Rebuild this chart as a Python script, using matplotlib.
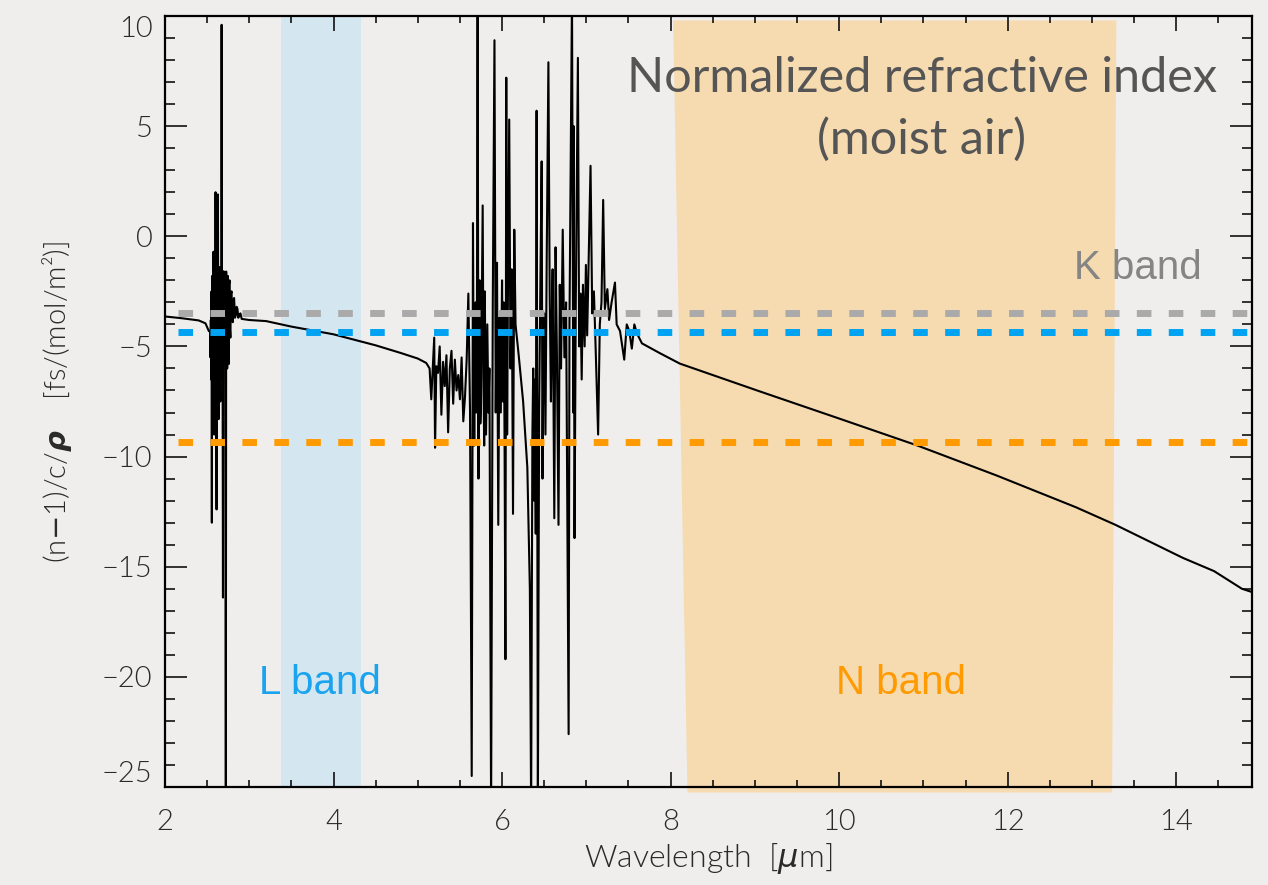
import numpy as np
import matplotlib
matplotlib.use("Agg")
import matplotlib.pyplot as plt
from matplotlib.patches import Polygon

# refractive index curve of moist air, piece by piece
wl_a = [2.00, 2.20, 2.40, 2.48, 2.52]
n_a = [-3.64, -3.72, -3.82, -3.95, -4.30]

# water band near 2.7 um
wl_b = [2.536, 2.540, 2.544, 2.548, 2.552, 2.556, 2.560, 2.564, 2.568, 2.572, 2.576, 2.580,
        2.584, 2.588, 2.592, 2.596, 2.600, 2.604, 2.608, 2.612, 2.616, 2.620, 2.624, 2.628,
        2.632, 2.636, 2.640, 2.644, 2.648, 2.652, 2.656, 2.660, 2.664, 2.668, 2.672, 2.676,
        2.680, 2.684, 2.688, 2.692, 2.696, 2.700, 2.704, 2.708, 2.712, 2.716, 2.722, 2.726,
        2.730, 2.734, 2.738, 2.742, 2.746, 2.750, 2.756, 2.761, 2.766, 2.771, 2.776, 2.783,
        2.790, 2.797, 2.805, 2.812, 2.820, 2.830, 2.840, 2.850, 2.860, 2.870, 2.880, 2.895, 2.910]
n_b = [-4.34, -5.5, -3.8, -6.5, -2.5, -13.0, -1.8, -6.0, -3.0, -7.0, -0.7, -6.5,
       -9.0, -2.0, -1.5, -6.5, 2.0, -5.0, -7.0, -12.4, -3.0, -2.0, -6.5, 1.9,
       -5.0, -8.3, -3.0, -6.2, -1.4, -5.5, -7.5, -2.0, -3.5, -6.5, 9.6, -6.0,
       -2.0, -6.8, -16.4, -1.6, -5.0, -1.6, -5.5, -3.0, -2.0, -6.0, -26.5, -1.6,
       -5.0, -2.0, -6.0, -2.5, -1.8, -4.5, -5.8, -2.2, -2.0, -4.2, -4.6, -2.6,
       -2.5, -3.8, -3.9, -2.9, -2.8, -3.7, -3.6, -3.2, -3.3, -3.7, -3.6, -3.5, -3.75]

wl_c = [3.00, 3.20, 3.50, 4.00, 4.50, 4.80, 5.00, 5.10]
n_c = [-3.80, -3.85, -4.10, -4.45, -4.95, -5.30, -5.55, -5.75]

# onset of the 6 um band
wl_d = [5.14, 5.16, 5.18, 5.195, 5.205, 5.22, 5.24, 5.26, 5.28, 5.30, 5.32, 5.34, 5.36, 5.38,
        5.40, 5.42, 5.44, 5.46, 5.48, 5.50, 5.52, 5.54, 5.56, 5.58, 5.60]
n_d = [-6.0, -7.4, -5.8, -4.6, -9.6, -5.9, -6.2, -5.0, -8.1, -5.7, -6.8, -5.4, -8.9, -6.0,
       -5.2, -7.6, -5.6, -7.0, -6.3, -7.4, -5.5, -8.4, -7.3, -5.6, -2.6]

# 6 um water band core
wl_e = [5.62, 5.64, 5.655, 5.662, 5.67, 5.685, 5.692, 5.70, 5.71, 5.72, 5.728, 5.735, 5.742,
        5.75, 5.77, 5.78, 5.788, 5.795, 5.81, 5.825, 5.838, 5.85, 5.87, 5.89, 5.91, 5.925,
        5.94, 5.955, 5.97, 5.985, 6.00, 6.01, 6.02, 6.03, 6.04, 6.05, 6.06, 6.07, 6.085,
        6.10, 6.115, 6.13, 6.145, 6.16, 6.20, 6.25, 6.30, 6.33, 6.345, 6.36, 6.37, 6.38,
        6.39, 6.40, 6.41, 6.425, 6.44, 6.455, 6.47, 6.48, 6.49, 6.50, 6.515, 6.53, 6.55,
        6.565, 6.58, 6.59, 6.60, 6.62, 6.635, 6.65, 6.67, 6.685, 6.70, 6.72, 6.74, 6.76,
        6.79, 6.80, 6.83, 6.845, 6.85, 6.86, 6.875, 6.90, 6.915, 6.93, 6.945, 6.96, 6.98,
        6.995, 7.01, 7.05, 7.07, 7.09, 7.11, 7.14, 7.16, 7.18, 7.20, 7.22, 7.25, 7.27,
        7.30, 7.34, 7.36, 7.40, 7.45, 7.48, 7.51, 7.54, 7.57, 7.60, 7.66, 7.75, 7.87]
n_e = [-8.0, -24.5, 0.6, -6.0, -9.5, -3.0, -8.0, -7.0, 11.0, -11.0, -4.0, -2.0, -8.5,
       -7.5, 1.4, -6.5, -9.5, -2.5, -9.0, -4.0, -8.0, -6.0, -26.0, -3.0, 8.9, -8.0,
       -1.2, -13.1, -3.5, -8.0, -2.0, -7.5, -3.0, -9.5, -19.2, 7.2, -9.0, -2.5, 5.3,
       -6.0, -1.5, -12.6, 0.3, -4.0, -5.5, -7.5, -10.5, -16.0, -26.0, -9.0, -6.0, -12.0,
       -6.5, -13.5, 5.7, -26.0, -8.0, -2.0, 3.4, -11.0, -5.0, -3.5, -9.0, -1.0, 7.9,
       -2.5, -7.5, -4.0, -1.5, -12.8, -0.5, -5.0, -13.1, -2.2, -6.0, 0.3, -5.5, -3.0,
       -22.6, -4.0, 11.0, -8.0, 5.0, -13.7, -3.0, 8.1, -5.0, -2.6, -6.5, -2.2, -5.0,
       -1.3, -4.5, 3.2, -3.5, -2.5, -5.0, -9.0, -4.0, -3.0, 1.65, -3.3, -2.4, -3.8,
       -3.0, -2.1, -4.0, -4.3, -5.6, -4.0, -4.3, -5.1, -4.0, -4.4, -4.86, -5.05, -5.30]

wl_f = [8.11, 9.05, 9.99, 10.93, 11.87, 12.81, 13.28, 14.08, 14.45, 14.78, 14.90]
n_f = [-5.78, -7.03, -8.26, -9.50, -10.86, -12.30, -13.10, -14.60, -15.20, -16.00, -16.15]

wl = wl_a + wl_b + wl_c + wl_d + wl_e + wl_f
n_norm = n_a + n_b + n_c + n_d + n_e + n_f

# reference levels (dashed) for the three bands
band_names = ["K band", "L band", "N band"]
band_levels = [-3.5, -4.36, -9.32]
band_colors = ["#aaaaaa", "#00a2f2", "#ff9a00"]
text_colors = ["#858585", "#1aa3ee", "#ff9a00"]

L_range = [3.377, 4.326]
N_top = [8.03, 13.29]
N_bottom = [8.20, 13.24]

bg = "#efeeec"
lfont = "Lato"

fig = plt.figure(figsize=(12.68, 8.85), dpi=100, facecolor=bg)
ax = fig.add_axes([165/1268, 1-787/885, (1252-165)/1268, (787-16)/885])
ax.set_facecolor(bg)

ax.set_xlim(2, 14.9)
ax.set_ylim(-25, 10)

# shaded bands
ax.axvspan(L_range[0], L_range[1], color="#d4e7f1", lw=0, zorder=1)
nb = Polygon([(N_top[0], 9.8), (N_bottom[0], -25.25), (N_bottom[1], -25.25), (N_top[1], 9.8)],
             closed=True, facecolor="#f7dbb0", edgecolor="none", zorder=1, clip_on=False)
ax.add_patch(nb)

ax.plot(wl, n_norm, color="black", lw=1.5, zorder=3)

for lev, c in zip(band_levels, band_colors):
    ax.hlines(lev, 2.15, 14.86, colors=c, lw=5, linestyles=(0, (2.1, 2.5)), zorder=4, capstyle="butt")

bfont = "Liberation Sans"
ax.text(13.54, -1.45, band_names[0], color=text_colors[0], fontsize=29, ha="center", va="center",
        family=bfont, zorder=5)
ax.text(3.84, -20.3, band_names[1], color=text_colors[1], fontsize=29, ha="center", va="center",
        family=bfont, zorder=5)
ax.text(10.73, -20.3, band_names[2], color=text_colors[2], fontsize=29, ha="center", va="center",
        family=bfont, zorder=5)

ax.text(10.98, 7.2, "Normalized refractive index", color="#555555", fontsize=35, ha="center",
        va="center", family=lfont, zorder=5)
ax.text(10.98, 4.4, "(moist air)", color="#555555", fontsize=35, ha="center",
        va="center", family=lfont, zorder=5)

# IDL-like frame with inward ticks on all sides
ax.set_xticks([2, 4, 6, 8, 10, 12, 14])
ax.set_xticks(np.arange(2, 15, 0.5), minor=True)
ax.set_yticks([-25, -20, -15, -10, -5, 0, 5, 10])
ax.set_yticks(np.arange(-25, 11, 1), minor=True)
ax.set_yticklabels(["\u221225", "\u221220", "\u221215", "\u221210", "\u22125", "0", "5", "10"])
ax.tick_params(axis="both", which="both", direction="in", top=True, right=True, colors="#111111")
ax.tick_params(axis="x", which="major", length=11, width=1.2, pad=16, labelsize=21)
ax.tick_params(axis="x", which="minor", length=5, width=1.2)
ax.tick_params(axis="y", which="major", length=16, width=1.2, pad=9, labelsize=21)
ax.tick_params(axis="y", which="minor", length=7.5, width=1.2)
for lab in ax.get_xticklabels() + ax.get_yticklabels():
    lab.set_family(lfont)
    lab.set_fontweight(300)
    lab.set_color("#2a2a2a")
ylabs = ax.get_yticklabels()
ylabs[0].set_va("bottom")
ylabs[-1].set_va("top")
for s in ax.spines.values():
    s.set_linewidth(1.6)
    s.set_zorder(6)

ax.set_xlabel(r"Wavelength  [$\mu$m]", fontsize=23, family=lfont, fontweight=300,
              color="#2a2a2a", labelpad=4)
ax.set_ylabel(r"(n$-$1)/c/$\boldsymbol{\rho}$    [fs/(mol/m²)]", fontsize=21, family=lfont,
              fontweight=300, color="#2a2a2a", labelpad=20)

fig.savefig("out.png", dpi=100, facecolor=bg)
